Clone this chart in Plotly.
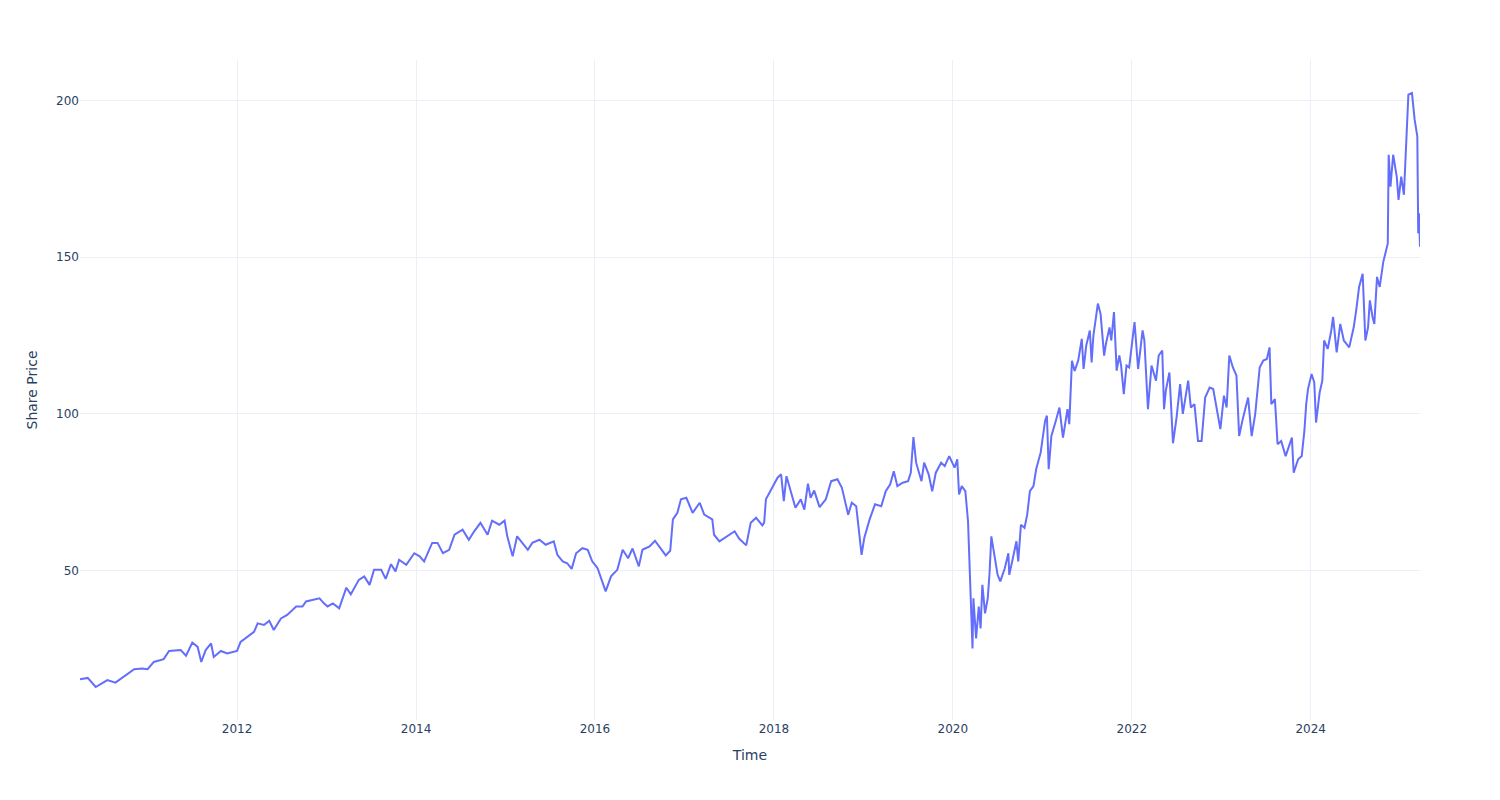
import numpy as np
import pandas as pd
import plotly.graph_objects as go

# Decimal-year time stamps
year_frac = [
    2010.244, 2010.33, 2010.42, 2010.55, 2010.64, 2010.74, 2010.85, 2010.94, 2011.00, 2011.07,
    2011.18, 2011.24, 2011.37, 2011.43, 2011.50, 2011.56, 2011.60, 2011.65, 2011.71, 2011.74,
    2011.82, 2011.89, 2012.00, 2012.04, 2012.12, 2012.19, 2012.23, 2012.30, 2012.36, 2012.41,
    2012.49, 2012.56, 2012.66, 2012.73, 2012.77, 2012.84, 2012.92, 2012.97, 2013.01, 2013.07,
    2013.14, 2013.22, 2013.27, 2013.36, 2013.42, 2013.48, 2013.53, 2013.61, 2013.66, 2013.72,
    2013.77, 2013.81, 2013.89, 2013.98, 2014.04, 2014.09, 2014.18, 2014.24, 2014.30, 2014.37,
    2014.43, 2014.52, 2014.59, 2014.65, 2014.72, 2014.80, 2014.85, 2014.93, 2014.99, 2015.02,
    2015.08, 2015.13, 2015.19, 2015.25, 2015.30, 2015.38, 2015.45, 2015.54, 2015.58, 2015.64,
    2015.69, 2015.74, 2015.79, 2015.86, 2015.92, 2015.97, 2016.03, 2016.09, 2016.12, 2016.18,
    2016.25, 2016.31, 2016.37, 2016.42, 2016.49, 2016.53, 2016.61, 2016.67, 2016.74, 2016.79,
    2016.84, 2016.87, 2016.92, 2016.96, 2017.02, 2017.09, 2017.17, 2017.22, 2017.31, 2017.33,
    2017.39, 2017.46, 2017.56, 2017.61, 2017.69, 2017.74, 2017.80, 2017.87, 2017.89, 2017.91,
    2017.97, 2018.01, 2018.04, 2018.08, 2018.11, 2018.14, 2018.19, 2018.24, 2018.30, 2018.34,
    2018.38, 2018.41, 2018.45, 2018.51, 2018.58, 2018.64, 2018.71, 2018.76, 2018.83, 2018.87,
    2018.92, 2018.96, 2018.98, 2019.01, 2019.07, 2019.13, 2019.20, 2019.25, 2019.30, 2019.34,
    2019.38, 2019.44, 2019.50, 2019.53, 2019.56, 2019.59, 2019.65, 2019.68, 2019.73, 2019.77,
    2019.81, 2019.87, 2019.91, 2019.96, 2020.02, 2020.05, 2020.07, 2020.10, 2020.14, 2020.17,
    2020.19, 2020.22, 2020.23, 2020.26, 2020.29, 2020.31, 2020.33, 2020.36, 2020.39, 2020.41,
    2020.43, 2020.47, 2020.50, 2020.53, 2020.58, 2020.62, 2020.63, 2020.67, 2020.71, 2020.73,
    2020.76, 2020.80, 2020.83, 2020.86, 2020.90, 2020.93, 2020.98, 2021.03, 2021.05, 2021.07,
    2021.10, 2021.15, 2021.19, 2021.23, 2021.28, 2021.30, 2021.33, 2021.36, 2021.40, 2021.44,
    2021.46, 2021.49, 2021.53, 2021.55, 2021.57, 2021.62, 2021.65, 2021.69, 2021.71, 2021.75,
    2021.77, 2021.80, 2021.83, 2021.86, 2021.88, 2021.91, 2021.94, 2021.97, 2022.03, 2022.07,
    2022.12, 2022.14, 2022.18, 2022.22, 2022.27, 2022.30, 2022.34, 2022.36, 2022.38, 2022.42,
    2022.46, 2022.50, 2022.54, 2022.57, 2022.63, 2022.66, 2022.70, 2022.74, 2022.78, 2022.82,
    2022.87, 2022.91, 2022.95, 2022.99, 2023.03, 2023.06, 2023.09, 2023.13, 2023.17, 2023.20,
    2023.24, 2023.30, 2023.34, 2023.38, 2023.43, 2023.47, 2023.51, 2023.54, 2023.56, 2023.60,
    2023.63, 2023.67, 2023.72, 2023.79, 2023.81, 2023.86, 2023.90, 2023.93, 2023.95, 2023.97,
    2024.01, 2024.04, 2024.06, 2024.10, 2024.13, 2024.15, 2024.19, 2024.23, 2024.25, 2024.29,
    2024.33, 2024.37, 2024.43, 2024.48, 2024.51, 2024.54, 2024.58, 2024.61, 2024.64, 2024.66,
    2024.69, 2024.71, 2024.74, 2024.77, 2024.81, 2024.83, 2024.86, 2024.87, 2024.89, 2024.92,
    2024.96, 2024.98, 2025.01, 2025.04, 2025.07, 2025.09, 2025.13, 2025.16, 2025.19, 2025.20,
    2025.21, 2025.22,
]

# Share prices
share_price = [
    15.3, 15.7, 12.8, 15.0, 14.2, 16.3, 18.5, 18.7, 18.5, 20.8,
    21.7, 24.3, 24.6, 22.8, 27.0, 25.6, 20.8, 24.6, 26.7, 22.4,
    24.3, 23.5, 24.3, 27.2, 28.8, 30.4, 33.1, 32.6, 33.9, 31.0,
    34.7, 35.8, 38.5, 38.5, 40.1, 40.6, 41.1, 39.5, 38.5, 39.5,
    37.9, 44.5, 42.4, 47.0, 48.1, 45.4, 50.2, 50.2, 47.3, 52.0,
    49.7, 53.4, 51.8, 55.5, 54.5, 52.9, 58.8, 58.8, 55.5, 56.6,
    61.4, 63.0, 59.8, 62.5, 65.2, 61.4, 65.9, 64.6, 65.9, 60.9,
    54.5, 60.9, 58.8, 56.6, 58.8, 59.8, 58.2, 59.3, 55.0, 52.9,
    52.3, 50.5, 55.5, 57.1, 56.6, 52.9, 50.7, 45.4, 43.3, 48.1,
    50.2, 56.6, 53.9, 57.0, 51.3, 56.6, 57.7, 59.5, 56.6, 54.8,
    56.3, 66.3, 68.4, 72.7, 73.2, 68.4, 71.6, 67.8, 66.3, 61.4,
    59.3, 60.6, 62.5, 60.2, 58.0, 65.2, 66.8, 64.4, 65.2, 72.7,
    75.9, 77.8, 79.6, 80.7, 72.1, 80.1, 75.3, 70.0, 72.7, 69.4,
    77.7, 73.2, 75.5, 70.2, 72.7, 78.5, 79.1, 76.4, 67.8, 71.6,
    70.5, 61.4, 55.0, 60.4, 66.3, 71.1, 70.5, 75.3, 77.5, 81.7,
    76.9, 78.0, 78.5, 81.2, 92.6, 84.4, 78.5, 84.4, 80.7, 75.3,
    81.2, 84.4, 83.3, 86.5, 82.8, 85.5, 74.3, 76.9, 75.3, 65.7,
    51.8, 25.1, 41.1, 28.3, 38.5, 31.5, 45.4, 36.3, 41.1, 49.1,
    60.9, 54.5, 48.6, 46.5, 50.7, 55.5, 48.6, 53.9, 59.3, 52.9,
    64.6, 63.6, 67.8, 75.3, 76.9, 82.3, 87.6, 97.8, 99.4, 82.3,
    92.9, 97.8, 102.0, 92.4, 101.5, 96.7, 116.9, 113.7, 117.0, 123.9,
    114.3, 121.8, 126.6, 116.4, 125.0, 135.2, 131.9, 118.6, 122.3, 127.6,
    123.4, 132.5, 113.8, 118.6, 115.4, 106.3, 115.4, 114.8, 129.3, 114.3,
    126.6, 123.4, 101.5, 115.4, 110.6, 118.6, 120.2, 101.5, 107.4, 113.2,
    90.6, 98.8, 109.5, 100.0, 110.6, 102.0, 103.1, 91.3, 91.3, 105.2,
    108.4, 107.9, 101.0, 95.1, 105.8, 102.0, 118.6, 114.8, 112.2, 92.9,
    98.3, 105.2, 92.9, 100.0, 114.8, 117.0, 117.5, 121.2, 103.1, 104.7,
    90.3, 91.3, 86.5, 92.4, 81.2, 85.5, 86.5, 94.6, 103.1, 107.9,
    112.7, 110.0, 97.2, 106.8, 110.6, 123.4, 120.7, 126.6, 130.9, 119.6,
    128.7, 123.4, 121.2, 127.6, 133.5, 140.5, 144.7, 123.4, 127.6, 136.2,
    130.9, 128.7, 143.7, 140.5, 148.5, 151.2, 154.4, 182.7, 172.5, 182.7,
    175.7, 168.3, 175.7, 169.9, 187.5, 201.9, 202.4, 193.9, 188.6, 157.6,
    164.0, 153.3,
]


def to_datetime(y):
    year = int(np.floor(y))
    start = pd.Timestamp(year=year, month=1, day=1)
    end = pd.Timestamp(year=year + 1, month=1, day=1)
    return start + (end - start) * (y - year)


dates = [to_datetime(y) for y in year_frac]

fig = go.Figure()
fig.add_trace(go.Scatter(x=dates, y=share_price, mode="lines",
                         line=dict(color="#636efa", width=2), name="Share Price"))

fig.update_layout(
    template="plotly_white",
    width=1500, height=800,
    margin=dict(t=60, b=80, l=80, r=80),
    font=dict(family="DejaVu Sans", color="#2a3f5f"),
    xaxis=dict(title=dict(text="Time")),
    yaxis=dict(title=dict(text="Share Price")),
    showlegend=False,
)

fig.write_html("out.html",
               config={"displayModeBar": False},
               post_script="document.body.style.margin='0';document.body.style.overflow='hidden';")
